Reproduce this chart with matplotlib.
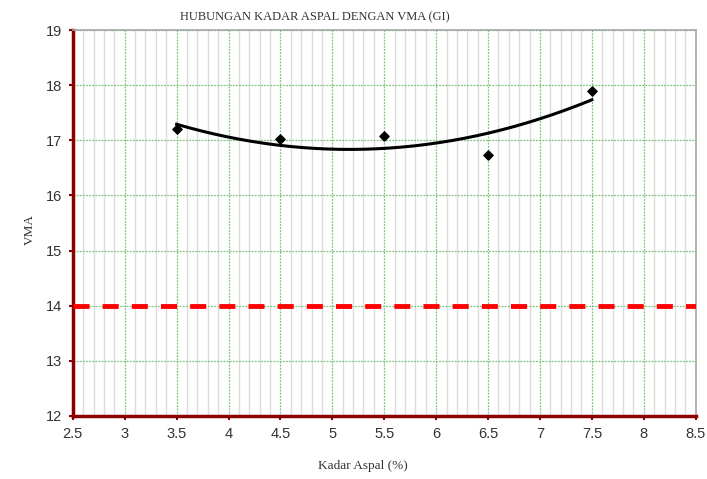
import numpy as np
import matplotlib
matplotlib.use('Agg')
import matplotlib.pyplot as plt
from matplotlib.ticker import MultipleLocator

# data
kadar_aspal = [3.5, 4.5, 5.5, 6.5, 7.5]
vma = [17.2, 17.02, 17.07, 16.73, 17.9]
batas_vma = 14.0

x_ticks = [2.5, 3, 3.5, 4, 4.5, 5, 5.5, 6, 6.5, 7, 7.5, 8, 8.5]
x_labels = ['2.5', '3', '3.5', '4', '4.5', '5', '5.5', '6', '6.5', '7', '7.5', '8', '8.5']
y_ticks = [12, 13, 14, 15, 16, 17, 18, 19]

fig = plt.figure(figsize=(7.07, 4.79), dpi=100)
ax = fig.add_axes([0.103, 0.132, 0.881, 0.805])

ax.set_xlim(2.5, 8.5)
ax.set_ylim(12, 19)
ax.set_xticks(x_ticks)
ax.set_xticklabels(x_labels)
ax.set_yticks(y_ticks)
ax.xaxis.set_minor_locator(MultipleLocator(0.1))

# grid: light grey minor verticals, green dotted majors
ax.grid(which='minor', axis='x', color='#dcdcdc', linewidth=1.0, linestyle='-')
ax.grid(which='major', axis='both', color='#7cc47c', linewidth=0.9, linestyle=(0, (1.5, 1)))
ax.set_axisbelow(True)

# batas minimum VMA
ax.axhline(batas_vma, color='#ff0000', linewidth=3.5, linestyle=(0, (3.3, 2.7)), zorder=3)

# trendline polinomial orde 2
coef = np.polyfit(kadar_aspal, vma, 2)
xs = np.linspace(min(kadar_aspal), max(kadar_aspal), 200)
ax.plot(xs, np.polyval(coef, xs), color='black', linewidth=2.2, zorder=4)

ax.scatter(kadar_aspal, vma, marker='D', s=22, color='black', zorder=5)

for side in ['left', 'bottom']:
    ax.spines[side].set_color('#8b0000')
    ax.spines[side].set_linewidth(2.5)
for side in ['top', 'right']:
    ax.spines[side].set_color('#a6a6a6')
    ax.spines[side].set_linewidth(1.2)

ax.tick_params(which='minor', length=0)
ax.tick_params(which='major', length=3, color='#8b0000', width=1.5, labelsize=10.5,
               labelcolor='#333333', pad=5)
for lbl in ax.get_xticklabels() + ax.get_yticklabels():
    lbl.set_fontfamily('Liberation Sans')

fig.text(0.445, 0.963, 'HUBUNGAN KADAR ASPAL DENGAN VMA (GI)', ha='center', va='center',
         fontsize=9, family='Liberation Serif', color='#333333')
fig.text(0.513, 0.027, 'Kadar Aspal (%)', ha='center', va='center',
         fontsize=9.5, family='Liberation Serif', color='#333333')
fig.text(0.042, 0.52, 'VMA', ha='center', va='center', rotation=90,
         fontsize=9.5, family='Liberation Serif', color='#333333')

fig.savefig('out.png', dpi=100)
